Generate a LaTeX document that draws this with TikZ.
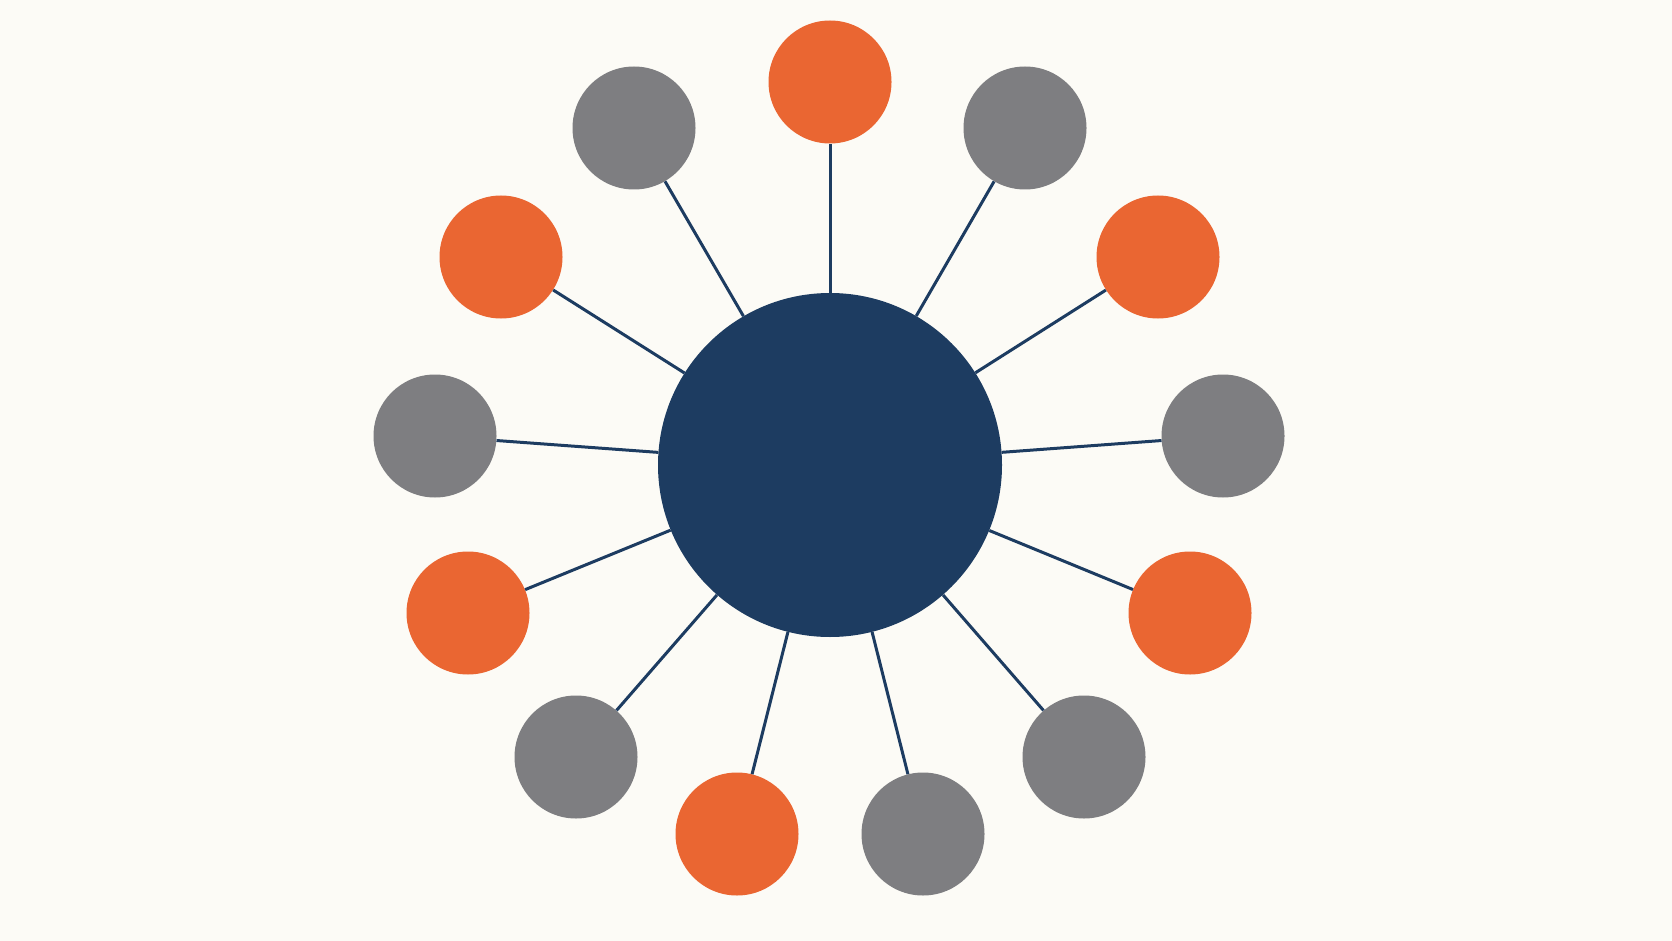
\documentclass[tikz,border=0pt]{standalone}
\definecolor{bgc}{HTML}{FCFBF6}
\definecolor{navyc}{HTML}{1D3C61}
\definecolor{orangec}{HTML}{EA6632}
\definecolor{grayc}{HTML}{7E7E81}
\begin{document}
\begin{tikzpicture}[x=1pt,y=-1pt,
  hub/.style={circle,fill=navyc,draw=none,minimum size=344pt,inner sep=0pt},
  sato/.style={circle,fill=orangec,draw=none,minimum size=123pt,inner sep=0pt},
  satg/.style={circle,fill=grayc,draw=none,minimum size=123pt,inner sep=0pt},
  spoke/.style={draw=navyc,line width=3pt}]
\fill[bgc] (0,0) rectangle (1672,941);
\useasboundingbox (0,0) rectangle (1672,941);
\node[hub] (c) at (830,465) {};
\node[sato] (s1) at (830,82) {};
\node[satg] (s2) at (1025,128) {};
\node[sato] (s3) at (1158,257) {};
\node[satg] (s4) at (1223,436) {};
\node[sato] (s5) at (1190,613) {};
\node[satg] (s6) at (1084,757) {};
\node[satg] (s7) at (923,834) {};
\node[sato] (s8) at (737,834) {};
\node[satg] (s9) at (576,757) {};
\node[sato] (s10) at (468,613) {};
\node[satg] (s11) at (435,436) {};
\node[sato] (s12) at (501,257) {};
\node[satg] (s13) at (634,128) {};
\foreach \i in {1,...,13} {\draw[spoke] (c) -- (s\i);}
\end{tikzpicture}
\end{document}
